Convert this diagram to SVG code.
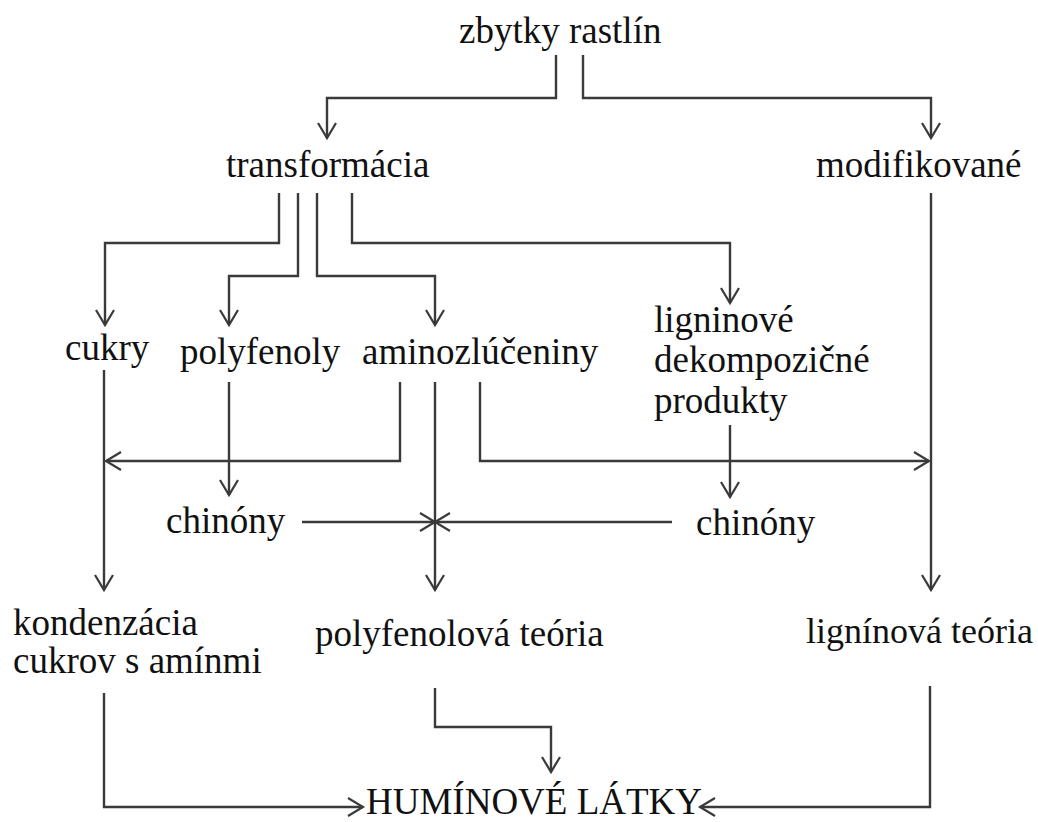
<svg xmlns="http://www.w3.org/2000/svg" width="1038" height="822" viewBox="0 0 1038 822">
<style>
text{font-family:"Liberation Serif","Times New Roman",serif;font-size:37px;fill:#111}
.c path{fill:none;stroke:#3a3a3a;stroke-width:2.4}
</style>
<defs>
<marker id="ah" markerUnits="userSpaceOnUse" markerWidth="24" markerHeight="24" viewBox="-20 -12 24 24" refX="0" refY="0" orient="auto">
<path d="M-15,-9 L0,0 L-15,9" fill="none" stroke="#3a3a3a" stroke-width="2.2"/>
</marker>
</defs>
<rect width="1038" height="822" fill="#fff"/>
<g class="c" id="connectors">
<path d="M556,55 V98 H327 V138" marker-end="url(#ah)"/>
<path d="M583,55 V98 H931 V138" marker-end="url(#ah)"/>
<path d="M279,193 V243 H105 V325" marker-end="url(#ah)"/>
<path d="M298,193 V276 H229 V325" marker-end="url(#ah)"/>
<path d="M317,193 V276 H435 V325" marker-end="url(#ah)"/>
<path d="M352,193 V243 H730 V303" marker-end="url(#ah)"/>
<path d="M931,193 V590" marker-end="url(#ah)"/>
<path d="M104,370 V590" marker-end="url(#ah)"/>
<path d="M229,382 V495" marker-end="url(#ah)"/>
<path d="M400,382 V461 H106" marker-end="url(#ah)"/>
<path d="M435,382 V590" marker-end="url(#ah)"/>
<path d="M480,382 V461 H929" marker-end="url(#ah)"/>
<path d="M730,425 V497" marker-end="url(#ah)"/>
<path d="M302,522 H435" marker-end="url(#ah)"/>
<path d="M672,522 H435" marker-end="url(#ah)"/>
<path d="M104,693 V807 H363" marker-end="url(#ah)"/>
<path d="M435,688 V727 H551 V772" marker-end="url(#ah)"/>
<path d="M930,686 V807 H700" marker-end="url(#ah)"/>
</g>
<g id="zbytky"><text x="459" y="43">zbytky rastlín</text></g>
<g id="transformacia"><text x="226" y="177">transformácia</text></g>
<g id="modifikovane"><text x="816" y="177">modifikované</text></g>
<g id="cukry"><text x="65" y="360">cukry</text></g>
<g id="polyfenoly"><text x="180" y="364">polyfenoly</text></g>
<g id="aminozluceniny"><text x="362" y="364">aminozlúčeniny</text></g>
<g id="ligninove"><text x="654" y="332">ligninové</text><text x="654" y="372">dekompozičné</text><text x="654" y="413">produkty</text></g>
<g id="chinony1"><text x="166" y="533">chinóny</text></g>
<g id="chinony2"><text x="696" y="535">chinóny</text></g>
<g id="kondenzacia"><text x="13" y="635">kondenzácia</text><text x="13" y="673">cukrov s amínmi</text></g>
<g id="polyfenolova"><text x="315" y="646">polyfenolová teória</text></g>
<g id="ligninova"><text x="806" y="643" style="font-size:36px">lignínová teória</text></g>
<g id="huminove"><text x="366" y="814">HUMÍNOVÉ LÁTKY</text></g>
</svg>
